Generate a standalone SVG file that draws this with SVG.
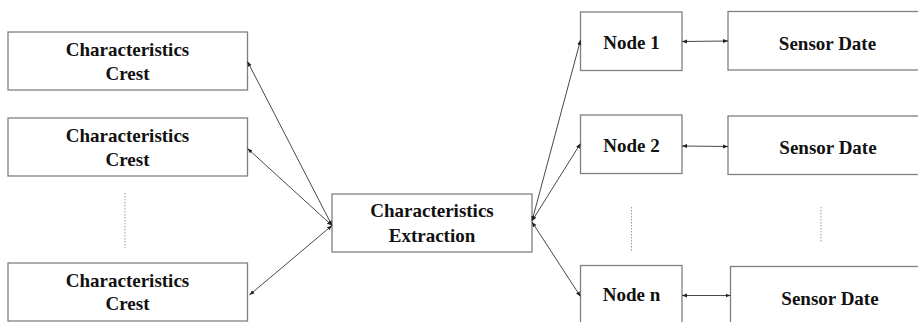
<svg xmlns="http://www.w3.org/2000/svg" width="918" height="322" viewBox="0 0 918 322">
<defs>
<marker id="ah" viewBox="0 0 10 10" refX="10" refY="5" markerWidth="5" markerHeight="5" markerUnits="userSpaceOnUse" orient="auto-start-reverse">
<path d="M0,1 L10,5 L0,9 z" fill="#222"/>
</marker>
<style>
.box{fill:#fff;stroke:#808080;stroke-width:1.3}
.c{stroke:#333;stroke-width:0.9;fill:none;marker-start:url(#ah);marker-end:url(#ah)}
.d{stroke:#999;stroke-width:1;stroke-dasharray:1.5,1.5;fill:none}
</style>
</defs>
<rect width="918" height="322" fill="#fff"/>
<g font-family="Liberation Serif, DejaVu Serif, serif" font-weight="bold" font-size="19" fill="#111" text-anchor="middle">
<g id="crest1"><rect class="box" x="8" y="32" width="239.5" height="58"/><text x="127.5" y="56">Characteristics</text><text x="127.5" y="80">Crest</text></g>
<g id="crest2"><rect class="box" x="8" y="118" width="239.5" height="58"/><text x="127.5" y="142">Characteristics</text><text x="127.5" y="166">Crest</text></g>
<g id="crest3"><rect class="box" x="8" y="263" width="239.5" height="58"/><text x="127.5" y="287">Characteristics</text><text x="127.5" y="310">Crest</text></g>
<g id="extraction"><rect class="box" x="332" y="194" width="200" height="58"/><text x="432" y="217">Characteristics</text><text x="432" y="242">Extraction</text></g>
<g id="node1"><rect class="box" x="580.5" y="12" width="101.5" height="58.5"/><text x="631.5" y="49">Node 1</text></g>
<g id="node2"><rect class="box" x="580.5" y="115" width="101.5" height="58.5"/><text x="631.5" y="152">Node 2</text></g>
<g id="noden"><rect class="box" x="580.5" y="265.5" width="101.5" height="60"/><text x="631.5" y="301">Node n</text></g>
<g id="sensor1"><rect class="box" x="728" y="11.5" width="195" height="58.5"/><text x="827.5" y="50">Sensor Date</text></g>
<g id="sensor2"><rect class="box" x="728" y="116" width="195" height="58.5"/><text x="828" y="153.5">Sensor Date</text></g>
<g id="sensorn"><rect class="box" x="730.5" y="266.5" width="195" height="60"/><text x="830" y="304.5">Sensor Date</text></g>
</g>
<g id="dots">
<line class="d" x1="125" y1="193" x2="125" y2="248"/>
<line class="d" x1="631.5" y1="207" x2="631.5" y2="251"/>
<line class="d" x1="821" y1="207" x2="821" y2="243"/>
</g>
<g id="connectors">
<line class="c" x1="332" y1="225.5" x2="247.5" y2="61.5"/>
<line class="c" x1="332" y1="225.5" x2="247.5" y2="148.5"/>
<line class="c" x1="332" y1="225.5" x2="249.5" y2="295"/>
<line class="c" x1="532" y1="221" x2="580.5" y2="40"/>
<line class="c" x1="532" y1="221" x2="580.5" y2="143.5"/>
<line class="c" x1="532" y1="222" x2="580.5" y2="296.5"/>
<line class="c" x1="682" y1="41.5" x2="728" y2="41"/>
<line class="c" x1="682" y1="146" x2="728" y2="146.5"/>
<line class="c" x1="682" y1="295.5" x2="730.5" y2="295.5"/>
</g>
</svg>
